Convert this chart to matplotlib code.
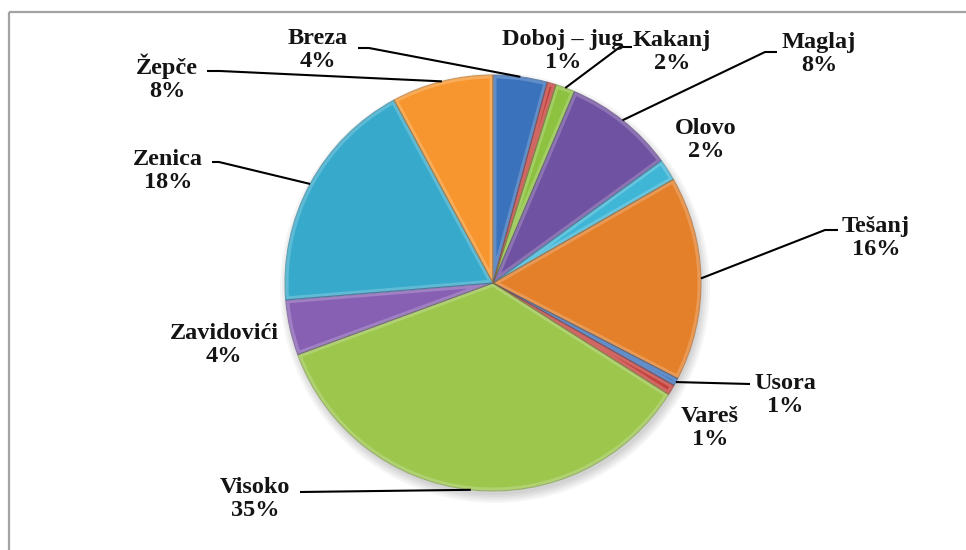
import numpy as np
import matplotlib.pyplot as plt
import matplotlib.colors as mcolors
from matplotlib.patches import Circle, Wedge, Rectangle

# municipalities, clockwise from 12 o'clock
names = ["Breza", "Doboj – jug", "Kakanj", "Maglaj", "Olovo", "Tešanj",
         "Usora", "Vareš", "Visoko", "Zavidovići", "Zenica", "Žepče"]
shares = [4.2, 0.7, 1.5, 8.6, 1.7, 15.9, 0.6, 0.8, 35.4, 4.3, 18.4, 7.9]
pct_labels = ["4%", "1%", "2%", "8%", "2%", "16%", "1%", "1%", "35%", "4%", "18%", "8%"]

colors = ["#3a72bb", "#c4413c", "#8cc23f", "#7052a2", "#3fb6d6", "#e4802a",
          "#3a72bb", "#c4413c", "#9cc64c", "#8760b4", "#37aacb", "#f7962e"]

# label block centres (pixels) and leader start points
label_pos = {
    "Breza": (318, 50), "Doboj – jug": (563, 51), "Kakanj": (672, 52),
    "Maglaj": (819, 54), "Olovo": (706, 140), "Tešanj": (876, 238),
    "Usora": (785, 395), "Vareš": (710, 428), "Visoko": (255, 499),
    "Zavidovići": (224, 345), "Zenica": (168, 171), "Žepče": (167, 78),
}
leaders = {
    "Breza": [(358, 48), (369, 48)],
    "Kakanj": [(632, 47), (620, 47)],
    "Maglaj": [(777, 52), (765, 52)],
    "Tešanj": [(838, 230), (825, 230)],
    "Usora": [(750, 384)],
    "Visoko": [(300, 492)],
    "Zenica": [(212, 162), (219, 162)],
    "Žepče": [(207, 71), (220, 71)],
}

fig = plt.figure(figsize=(9.66, 5.5), dpi=100)
ax = fig.add_axes([0, 0, 1, 1])
cx, cy, r = 493, 283, 208

# soft drop shadow
for k in range(5):
    ax.add_patch(Circle((cx + 2, cy + 5), r + 7 - 2 * k, color="black",
                        alpha=0.035, lw=0, zorder=1))

wedges, _ = ax.pie(shares, colors=colors, startangle=-90, counterclock=True,
                   center=(cx, cy), radius=r,
                   wedgeprops=dict(linewidth=0.5, edgecolor="#e8e8e8"))

for w, c in zip(wedges, colors):
    w.set_zorder(2)
    light = tuple(min(1, v * 0.6 + 0.4) for v in mcolors.to_rgb(c))
    dark = tuple(v * 0.72 for v in mcolors.to_rgb(c))
    rim = Wedge((cx, cy), r, w.theta1, w.theta2, fc="none", ec=light,
                lw=5, alpha=0.5, zorder=3)
    ax.add_patch(rim)
    rim.set_clip_path(w)
    edge = Wedge((cx, cy), r, w.theta1, w.theta2, fc="none", ec=dark,
                 lw=0.8, alpha=0.6, zorder=4)
    ax.add_patch(edge)

# labels and leader lines
for w, name, pct in zip(wedges, names, pct_labels):
    x, y = label_pos[name]
    ax.text(x, y, name + "\n" + pct, ha="center", va="center",
            fontfamily="Liberation Serif", fontweight="bold", fontsize=17.5,
            color="#141414", linespacing=1.15, zorder=6)
    if name in leaders:
        mid = np.deg2rad((w.theta1 + w.theta2) / 2)
        end = (cx + r * np.cos(mid), cy + r * np.sin(mid))
        pts = leaders[name] + [end]
        ax.plot([p[0] for p in pts], [p[1] for p in pts], color="black",
                lw=1.5, zorder=5, solid_capstyle="butt")

# chart frame
ax.add_patch(Rectangle((9, 12), 990, 600, fill=False, ec="#a3a3a3",
                       lw=1.6, zorder=0))

ax.set_xlim(0, 966)
ax.set_ylim(550, 0)
ax.set_aspect("auto")
ax.axis("off")

fig.savefig("out.png", dpi=100)
